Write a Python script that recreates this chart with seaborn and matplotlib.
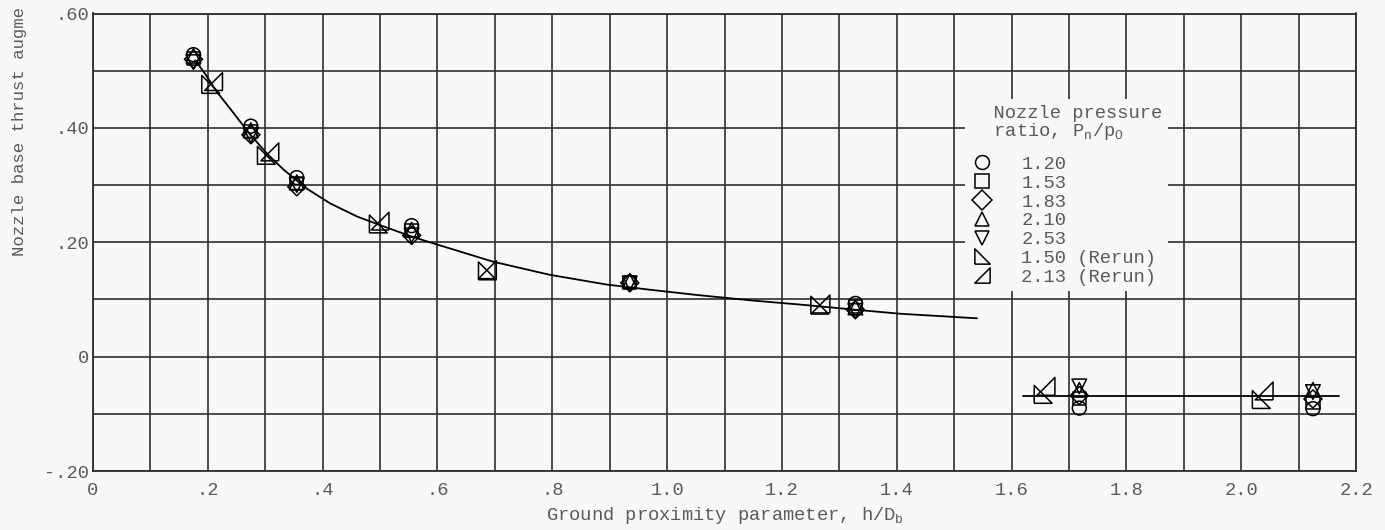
import numpy as np
import pandas as pd
import matplotlib
matplotlib.use("Agg")
import matplotlib.pyplot as plt
from matplotlib.lines import Line2D
import seaborn as sns

# ---------------- data ----------------
x_main = [0.175, 0.275, 0.355, 0.555, 0.935, 1.328, 1.718, 2.125]
y_120 = [0.528, 0.403, 0.313, 0.229, 0.130, 0.093, -0.090, -0.091]
y_153 = [0.522, 0.393, 0.303, 0.220, 0.130, 0.087, -0.073, -0.080]
y_183 = [0.520, 0.388, 0.297, 0.212, 0.129, 0.082, -0.068, -0.074]
y_210 = [0.526, 0.396, 0.305, 0.222, 0.132, 0.086, -0.058, -0.058]
y_253 = [0.515, 0.387, 0.300, 0.212, 0.128, 0.080, -0.052, -0.062]

x_150r = [0.205, 0.302, 0.497, 0.687, 1.266, 1.655, 2.035]
y_150r = [0.476, 0.352, 0.232, 0.150, 0.090, -0.066, -0.075]
x_213r = [0.210, 0.308, 0.500, 0.687, 1.268, 1.660, 2.040]
y_213r = [0.481, 0.358, 0.237, 0.152, 0.092, -0.052, -0.060]

# faired curve
curve_x = [0.178, 0.195, 0.215, 0.244, 0.274, 0.305, 0.332, 0.372, 0.413, 0.460,
           0.500, 0.555, 0.593, 0.697, 0.796, 0.895, 0.970, 1.050, 1.150, 1.232,
           1.328, 1.406, 1.540]
curve_y = [0.518, 0.495, 0.464, 0.427, 0.388, 0.353, 0.327, 0.294, 0.268, 0.245,
           0.230, 0.210, 0.198, 0.166, 0.143, 0.126, 0.117, 0.108, 0.098, 0.091,
           0.082, 0.075, 0.067]
flat_x = [1.62, 2.17]
flat_y = [-0.068, -0.068]

labels = ["1.20", "1.53", "1.83", "2.10", "2.53", "1.50 (Rerun)", "2.13 (Rerun)"]

x_ticks = [0, 0.2, 0.4, 0.6, 0.8, 1.0, 1.2, 1.4, 1.6, 1.8, 2.0, 2.2]
x_ticklabels = ["0", ".2", ".4", ".6", ".8", "1.0", "1.2", "1.4", "1.6", "1.8", "2.0", "2.2"]
y_ticks = [-0.2, 0.0, 0.2, 0.4, 0.6]
y_ticklabels = ["-.20", "0", ".20", ".40", ".60"]

# ---------------- style ----------------
sns.set_theme(style="white")
FONT = ["Liberation Mono", "DejaVu Sans Mono"]
plt.rcParams["font.family"] = FONT
plt.rcParams["mathtext.fontset"] = "custom"
plt.rcParams["mathtext.rm"] = "Liberation Mono"
plt.rcParams["mathtext.it"] = "Liberation Mono"
TXT = "#5a5a5a"
GRID = "#2e2e2e"
BG = "#f8f8f8"
FS = 13.5

tri_bl = [(-1, -1), (1, -1), (-1, 1), (-1, -1)]   # right angle bottom-left
tri_br = [(1, -1), (1, 1), (-1, -1), (1, -1)]     # right angle bottom-right
markers = ["o", "s", "D", "^", "v", tri_bl, tri_br]
sizes = [100, 90, 85, 110, 110, 165, 165]

fig = plt.figure(figsize=(13.85, 5.30), dpi=100, facecolor=BG)
ax = fig.add_axes([93 / 1385, 1 - 471 / 530, 1263 / 1385, (471 - 13.5) / 530])
ax.set_facecolor(BG)

# curve and flat line
sns.lineplot(x=curve_x, y=curve_y, color="black", linewidth=1.3, ax=ax, zorder=3,
             sort=False, estimator=None)
sns.lineplot(x=flat_x, y=flat_y, color="black", linewidth=1.3, ax=ax, zorder=3,
             sort=False, estimator=None)

series = [(x_main, y_120), (x_main, y_153), (x_main, y_183), (x_main, y_210),
          (x_main, y_253), (x_150r, y_150r), (x_213r, y_213r)]
for (xs, ys), m, s in zip(series, markers, sizes):
    df = pd.DataFrame({"x": xs, "y": ys})
    sns.scatterplot(data=df, x="x", y="y", marker=m, s=s, facecolor="none",
                    edgecolor="black", linewidth=1.1, ax=ax, zorder=4)
for c in ax.collections:
    c.set_facecolor("none")
    c.set_edgecolor("black")

ax.set_xlim(0, 2.2)
ax.set_ylim(-0.2, 0.6)
ax.set_xticks(np.arange(0, 2.21, 0.1), minor=True)
ax.set_yticks(np.arange(-0.2, 0.61, 0.1), minor=True)
ax.set_xticks(x_ticks)
ax.set_xticklabels(x_ticklabels)
ax.set_yticks(y_ticks)
ax.set_yticklabels(y_ticklabels)
ax.grid(True, which="both", color=GRID, linewidth=1.2)
ax.set_axisbelow(True)
for sp in ax.spines.values():
    sp.set_color(GRID)
    sp.set_linewidth(1.3)
ax.tick_params(axis="both", which="both", length=0, labelsize=FS, labelcolor=TXT)
ax.tick_params(axis="x", pad=8)
ax.tick_params(axis="y", pad=3)
ax.set_xlabel("Ground proximity parameter, h/D$_\\mathregular{b}$", fontsize=FS,
              color=TXT, labelpad=4)
ax.set_ylabel("")
# y label: only the part visible in the reference (it is cropped there)
fig.text(20 / 1385, (530 - 256) / 530, "Nozzle base thrust augme",
         rotation=90, ha="center", va="bottom", fontsize=12.5, color=TXT)

handles = [Line2D([], [], linestyle="none", marker=m, markersize=10 if i < 5 else 11,
                  markerfacecolor="none", markeredgecolor="black", markeredgewidth=1.1)
           for i, m in enumerate(markers)]
leg = ax.legend(handles, labels,
                title="  Nozzle pressure\n  ratio, P$_\\mathregular{n}$/p$_\\mathregular{O}$",
                loc="upper left", bbox_to_anchor=((965 - 93) / 1263, (471 - 99) / 457.5),
                frameon=True, facecolor=BG, edgecolor="none", framealpha=1,
                fontsize=FS, title_fontsize=FS, labelcolor=TXT, handlelength=1.2,
                handletextpad=1.5, labelspacing=0.09, borderpad=0.3,
                alignment="left", borderaxespad=0)
leg.get_title().set_color(TXT)
leg.get_title().set_linespacing(0.95)
leg._legend_box.sep = 10
leg.set_zorder(5)

fig.savefig("out.png", dpi=100, facecolor=BG)
